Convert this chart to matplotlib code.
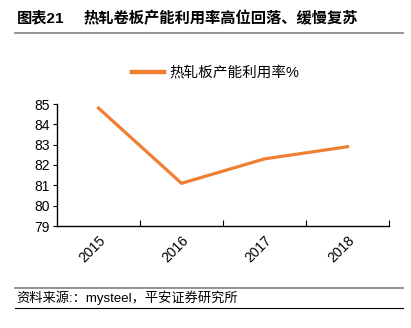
import matplotlib
matplotlib.use('Agg')
from matplotlib import pyplot as plt
from matplotlib.lines import Line2D

plt.rcParams['font.family'] = ['Liberation Sans', 'Noto Sans CJK SC', 'DejaVu Sans']

years = ['2015', '2016', '2017', '2018']
rate = [84.8, 81.1, 82.3, 82.9]
y_ticks = [79, 80, 81, 82, 83, 84, 85]

fig = plt.figure(figsize=(4.11, 3.28), dpi=100)
ax = fig.add_axes([57 / 411, 1 - 226 / 328, 332 / 411, 122 / 328])

x = [i + 0.5 for i in range(len(years))]
ax.plot(x, rate, color='#F07F34', linewidth=2.3, label='热轧板产能利用率%',
        solid_joinstyle='miter')

ax.set_xlim(0, len(years))
ax.set_ylim(79, 85)
ax.set_yticks(y_ticks)
ax.set_yticklabels([str(v) for v in y_ticks], fontsize=10)

# category boundaries carry the tick marks, labels sit in the middle
ax.set_xticks(range(1, len(years) + 1))
ax.set_xticklabels([])
ax.tick_params(axis='x', direction='in', length=4, width=0.8)
ax.tick_params(axis='y', direction='out', length=3, width=0.8, pad=2)
for xi, yr in zip(x, years):
    ax.text(xi, -0.06, yr, transform=ax.get_xaxis_transform(), rotation=45,
            ha='right', va='top', fontsize=10, rotation_mode='anchor')

for s in ['top', 'right']:
    ax.spines[s].set_visible(False)
for s in ['left', 'bottom']:
    ax.spines[s].set_linewidth(1.0)

fig.legend(handles=[Line2D([], [], color='#F07F34', linewidth=3.2)],
           labels=['热轧板产能利用率%'], loc='center', bbox_to_anchor=(0.525, 1 - 73 / 328),
           frameon=False, fontsize=10.5, handlelength=2.2, handletextpad=0.4)

# header and footer
fig.text(17 / 411, 1 - 18 / 328, '图表21', fontsize=11, fontweight='bold', va='center')
fig.text(83 / 411, 1 - 18 / 328, '热轧卷板产能利用率高位回落、缓慢复苏', fontsize=11,
         fontweight='bold', va='center')
fig.add_artist(Line2D([15 / 411, 403 / 411], [1 - 33 / 328, 1 - 33 / 328],
                      color='#808080', linewidth=1.2))
fig.add_artist(Line2D([15 / 411, 403 / 411], [1 - 288 / 328, 1 - 288 / 328],
                      color='#808080', linewidth=1.2))
fig.text(16 / 411, 1 - 298 / 328, '资料来源:：mysteel，平安证券研究所', fontsize=9.5,
         va='center')
fig.add_artist(Line2D([15 / 411, 403 / 411], [1 - 308 / 328, 1 - 308 / 328],
                      color='black', linewidth=0.8))

plt.savefig('out.png', dpi=100)
